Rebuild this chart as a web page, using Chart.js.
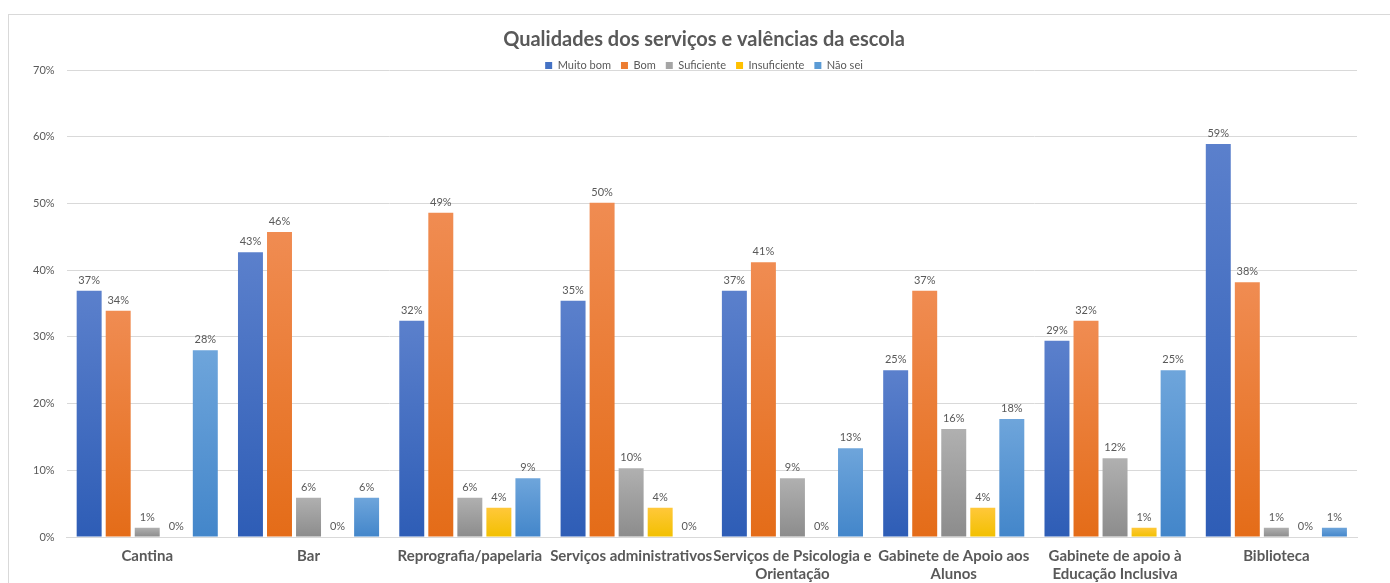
<!DOCTYPE html>
<html>
<head>
<meta charset="utf-8">
<script src="https://cdn.jsdelivr.net/npm/chart.js@4.4.0/dist/chart.umd.min.js"></script>
<style>
  html, body { margin: 0; padding: 0; background: #fff; overflow: hidden; width: 1390px; height: 583px; }
  #frame { position: absolute; left: 8px; top: 14px; width: 1400px; height: 600px; border: 1px solid #d9d9d9; box-sizing: border-box; }
  #wrap { position: absolute; left: 9px; top: 15px; width: 1391px; height: 578px; }
</style>
</head>
<body>
<div id="frame"></div>
<div id="wrap"><canvas id="c"></canvas></div>
<script>
const categories = [
  'Cantina',
  'Bar',
  'Reprografia/papelaria',
  'Serviços administrativos',
  ['Serviços de Psicologia e', 'Orientação'],
  ['Gabinete de Apoio aos', 'Alunos'],
  ['Gabinete de apoio à', 'Educação Inclusiva'],
  'Biblioteca'
];
const seriesNames = ['Muito bom', 'Bom', 'Suficiente', 'Insuficiente', 'Não sei'];
const muitoBom    = [36.9, 42.7, 32.4, 35.4, 36.9, 25.0, 29.4, 58.9];
const bom         = [33.9, 45.7, 48.6, 50.1, 41.2, 36.9, 32.4, 38.2];
const suficiente  = [1.4, 5.9, 5.9, 10.3, 8.8, 16.2, 11.8, 1.4];
const insuficiente= [0, 0, 4.4, 4.4, 0, 4.4, 1.4, 0];
const naoSei      = [28.0, 5.9, 8.8, 0, 13.3, 17.7, 25.0, 1.4];
const yTicks = [0, 10, 20, 30, 40, 50, 60, 70];

const solid = ['#4472C4', '#ED7D31', '#A5A5A5', '#FFC000', '#5B9BD5'];
const gradStops = [
  ['#5b80cc', '#2e5db6'],
  ['#f08c52', '#e46c18'],
  ['#b0b0b0', '#8c8c8c'],
  ['#ffc83a', '#f2c000'],
  ['#6ea5db', '#4386ca']
];

function gradFor(idx) {
  return function(ctx) {
    const chart = ctx.chart;
    const ca = chart.chartArea;
    if (!ca || ctx.type !== 'data') return solid[idx];
    const ys = chart.scales.y;
    const top = ys.getPixelForValue(ctx.raw);
    const bot = ys.getPixelForValue(0);
    if (!isFinite(top) || bot - top < 1) return solid[idx];
    const g = chart.ctx.createLinearGradient(0, top, 0, bot);
    g.addColorStop(0, gradStops[idx][0]);
    g.addColorStop(1, gradStops[idx][1]);
    return g;
  };
}

const allData = [muitoBom, bom, suficiente, insuficiente, naoSei];
const datasets = allData.map((d, i) => ({
  label: seriesNames[i],
  data: d,
  backgroundColor: gradFor(i),
  borderWidth: 0,
  categoryPercentage: 0.9,
  barPercentage: 0.86
}));

const FONT = 'Lato, "Open Sans", sans-serif';

const valueLabels = {
  id: 'valueLabels',
  afterDatasetsDraw(chart) {
    const ctx = chart.ctx;
    ctx.save();
    ctx.font = '11px ' + FONT;
    ctx.fillStyle = '#595959';
    ctx.textAlign = 'center';
    ctx.textBaseline = 'bottom';
    chart.data.datasets.forEach((ds, di) => {
      const meta = chart.getDatasetMeta(di);
      meta.data.forEach((bar, i) => {
        ctx.fillText(Math.round(ds.data[i]) + '%', bar.x, bar.y - 5);
      });
    });
    ctx.restore();
  }
};

// Let the legend sit closer to the plot area (as in the original)
const tightLegend = {
  id: 'tightLegend',
  beforeInit(chart) {
    const lg = chart.legend;
    if (!lg) return;
    const origFit = lg.fit;
    lg.fit = function() {
      origFit.call(this);
      this.height = Math.max(0, this.height - 11);
    };
  }
};

new Chart(document.getElementById('c'), {
  type: 'bar',
  data: { labels: categories, datasets: datasets },
  plugins: [valueLabels, tightLegend],
  options: {
    responsive: true,
    maintainAspectRatio: false,
    animation: false,
    layout: { padding: { left: 12, right: 13, top: 0, bottom: 0 } },
    plugins: {
      title: {
        display: true,
        text: 'Qualidades dos serviços e valências da escola',
        color: '#595959',
        font: { family: FONT, size: 20, weight: 'bold' },
        padding: { top: 13, bottom: -2 }
      },
      legend: {
        display: true,
        labels: {
          color: '#595959',
          font: { family: FONT, size: 11 },
          boxWidth: 7,
          boxHeight: 7,
          padding: 10,
          generateLabels(chart) {
            return seriesNames.map((n, i) => ({
              text: n, fillStyle: solid[i], strokeStyle: solid[i], lineWidth: 0,
              hidden: false, datasetIndex: i, fontColor: '#595959'
            }));
          }
        }
      },
      tooltip: { enabled: false }
    },
    scales: {
      x: {
        grid: { display: false, drawTicks: false },
        border: { display: true, color: '#d9d9d9' },
        ticks: {
          color: '#595959',
          font: { family: FONT, size: 15, weight: 'bold' },
          maxRotation: 0, autoSkip: false, padding: 10
        }
      },
      y: {
        min: 0, max: 70,
        afterBuildTicks(axis) { axis.ticks = yTicks.map(v => ({ value: v })); },
        grid: { color: '#d9d9d9', drawTicks: false },
        border: { display: false },
        ticks: {
          color: '#595959',
          font: { family: FONT, size: 11 },
          padding: 12,
          callback: v => v + '%'
        }
      },
      yRight: {
        position: 'right',
        display: true,
        min: 0, max: 70,
        grid: { display: false, drawTicks: false },
        border: { display: false },
        ticks: { display: false },
        afterFit(axis) { axis.width = 30; }
      }
    }
  }
});
</script>
</body>
</html>
